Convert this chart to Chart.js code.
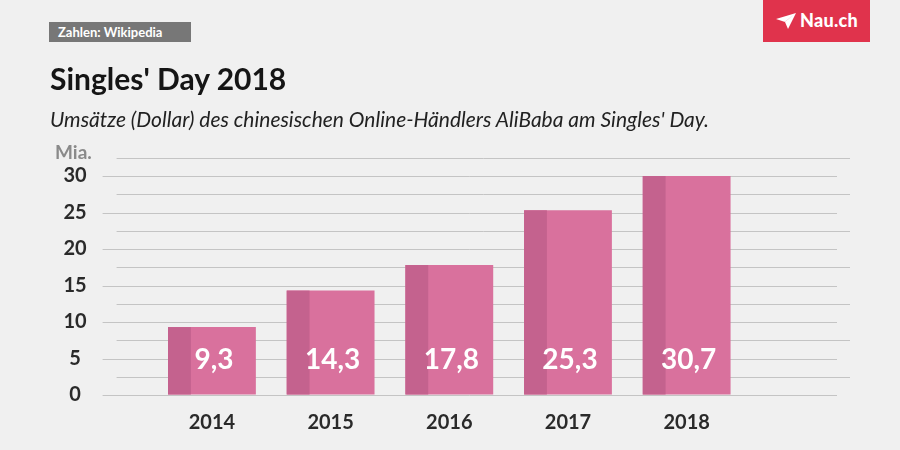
<!DOCTYPE html>
<html>
<head>
<meta charset="utf-8">
<script src="https://cdn.jsdelivr.net/npm/chart.js@4/dist/chart.umd.min.js"></script>
<style>
  html, body { margin: 0; padding: 0; background: #f0f0f0; }
  #wrap { position: relative; width: 900px; height: 450px; overflow: hidden; background: #f0f0f0; font-family: Lato, "Open Sans", sans-serif; }
  #c { position: absolute; left: 0; top: 0; }
  .src { position: absolute; left: 49px; top: 22px; width: 142px; height: 20px; background: #777777; color: #fff; font-weight: 700; font-size: 13px; line-height: 20px; box-sizing: border-box; padding-left: 9px; }
  .title { position: absolute; left: 50px; top: 63px; font-size: 30px; font-weight: 700; line-height: 1; color: #151515; white-space: nowrap; }
  .sub { position: absolute; left: 50px; top: 108px; font-size: 21px; font-style: italic; line-height: 1; color: #222; white-space: nowrap; }
  .mia { position: absolute; left: 55px; top: 142px; font-size: 19px; font-weight: 700; line-height: 1; color: #8a8a8a; }
  .logo { position: absolute; left: 763px; top: 0; width: 107px; height: 42px; background: #e0334c; color: #fff; }
  .logo svg { position: absolute; left: 13px; top: 13px; }
  .logo span { position: absolute; left: 37px; top: 11px; font-size: 18px; font-weight: 900; line-height: 1; letter-spacing: 0.3px; }
</style>
</head>
<body>
<div id="wrap">
  <canvas id="c" width="900" height="450"></canvas>
  <div class="src">Zahlen: Wikipedia</div>
  <div class="logo">
    <svg width="20" height="16" viewBox="0 0 20 16"><polygon points="0,6 20,0 12,16 9,9" fill="#fff"/><polygon points="9,9 20,0 7,10" fill="#e0334c" opacity="0.35"/></svg>
    <span>Nau.ch</span>
  </div>
  <div class="title">Singles' Day 2018</div>
  <div class="sub">Umsätze (Dollar) des chinesischen Online-Händlers AliBaba am Singles' Day.</div>
  <div class="mia">Mia.</div>
</div>
<script>
const categories = ['2014', '2015', '2016', '2017', '2018'];
const values = [9.3, 14.3, 17.8, 25.3, 30.7];
const valueLabels = ['9,3', '14,3', '17,8', '25,3', '30,7'];
const yTickStep = 5;
const yMax = 30;
const gridStep = 2.5;
const gridTop = 32.5;

const barColor = '#d9719d';
const stripColor = '#c4628e';
const gridColor = '#c4c4c4';

const gridPlugin = {
  id: 'customGrid',
  beforeDatasetsDraw(chart) {
    const { ctx, chartArea, scales } = chart;
    const y = scales.y;
    ctx.save();
    ctx.strokeStyle = gridColor;
    ctx.lineWidth = 1;
    for (let v = 0; v <= gridTop + 1e-9; v += gridStep) {
      const py = Math.round(y.getPixelForValue(v)) + 0.5;
      const major = Math.abs(v / yTickStep - Math.round(v / yTickStep)) < 1e-9;
      const x0 = major ? chartArea.left - 50 : chartArea.left - 36;
      const x1 = major ? chartArea.right + 91 : chartArea.right + 104;
      ctx.beginPath();
      ctx.moveTo(x0, py);
      ctx.lineTo(x1, py);
      ctx.stroke();
    }
    ctx.restore();
  },
  afterDatasetsDraw(chart) {
    const { ctx, chartArea } = chart;
    const meta = chart.getDatasetMeta(0);
    ctx.save();
    ctx.beginPath();
    ctx.rect(chartArea.left, chartArea.top, chartArea.right - chartArea.left, chartArea.bottom - chartArea.top);
    ctx.clip();
    meta.data.forEach((el) => {
      const p = el.getProps(['x', 'y', 'base', 'width'], true);
      const left = p.x - p.width / 2;
      const top = Math.max(p.y, chartArea.top);
      ctx.fillStyle = stripColor;
      ctx.fillRect(left, top, p.width * 0.26, p.base - top);
    });
    ctx.restore();
    ctx.save();
    ctx.fillStyle = '#ffffff';
    ctx.font = '700 28px Lato, sans-serif';
    ctx.textAlign = 'center';
    ctx.textBaseline = 'middle';
    meta.data.forEach((el, i) => {
      const p = el.getProps(['x', 'base'], true);
      ctx.fillText(valueLabels[i], p.x + 2, p.base - 35);
    });
    ctx.restore();
  }
};

new Chart(document.getElementById('c'), {
  type: 'bar',
  data: {
    labels: categories,
    datasets: [{
      data: values,
      backgroundColor: barColor,
      borderWidth: 0,
      barPercentage: 0.74,
      categoryPercentage: 1,
      clip: 0
    }]
  },
  options: {
    responsive: false,
    animation: false,
    devicePixelRatio: 1,
    layout: { padding: { left: 0, right: 154, top: 176, bottom: 0 } },
    plugins: { legend: { display: false }, tooltip: { enabled: false }, title: { display: false } },
    scales: {
      x: {
        grid: { display: false, drawTicks: false },
        border: { display: false },
        ticks: { color: '#2a2a2a', font: { family: 'Lato', size: 20, weight: '700' }, padding: 16, maxRotation: 0 },
        afterFit(scale) { scale.height = 55; }
      },
      y: {
        min: 0,
        max: yMax,
        grid: { display: true, drawOnChartArea: false, drawTicks: true, tickLength: 63, color: 'rgba(0,0,0,0)' },
        border: { display: false },
        ticks: { stepSize: yTickStep, color: '#2a2a2a', font: { family: 'Lato', size: 20, weight: '700' }, padding: 3, crossAlign: 'center' },
        afterFit(scale) { scale.width = 152.6; }
      }
    }
  },
  plugins: [gridPlugin]
});
</script>
</body>
</html>
